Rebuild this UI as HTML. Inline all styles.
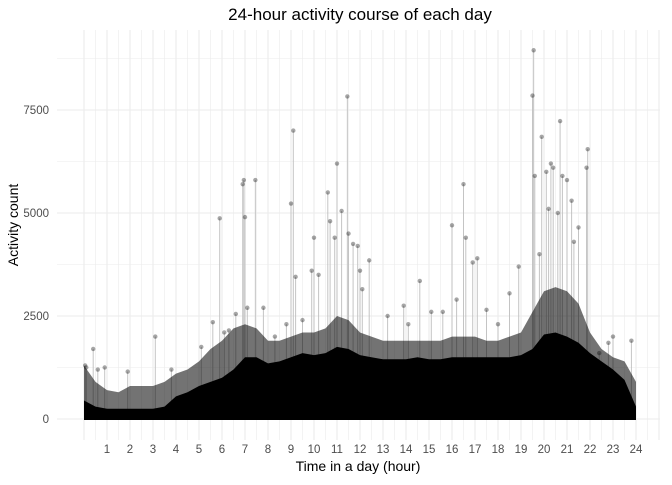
<!DOCTYPE html>
<html><head><meta charset="utf-8"><style>
body{margin:0;background:#fff;font-family:"Liberation Sans",sans-serif}
</style></head><body>
<svg id="chart" width="672" height="480" xmlns="http://www.w3.org/2000/svg"></svg>
<script>
// dense core top per half hour (0..24)
const denseHours=[0,0.5,1,1.5,2,2.5,3,3.5,4,4.5,5,5.5,6,6.5,7,7.5,8,8.5,9,9.5,10,10.5,11,11.5,12,12.5,13,13.5,14,14.5,15,15.5,16,16.5,17,17.5,18,18.5,19,19.5,20,20.5,21,21.5,22,22.5,23,23.5,24];
const denseValues=[450,300,250,250,250,250,250,300,550,650,800,900,1000,1200,1500,1500,1350,1400,1500,1600,1550,1600,1750,1700,1550,1500,1450,1450,1450,1500,1450,1450,1500,1500,1500,1500,1500,1500,1550,1700,2050,2100,2000,1850,1600,1400,1200,950,300];
const haloValues=[1300,900,700,650,800,800,800,900,1100,1200,1400,1700,1900,2200,2300,2200,1900,1900,2000,2100,2100,2200,2500,2400,2100,2000,1900,1900,1900,1900,1900,1900,2000,2000,2000,1900,1900,2000,2100,2600,3100,3200,3100,2800,2100,1700,1500,1400,900];
const spikeHours=[0.05,0.1,0.4,0.6,0.9,1.9,3.1,3.8,5.1,5.6,5.9,6.1,6.3,6.6,6.9,6.95,7.0,7.45,7.1,7.8,8.3,9.1,9.0,9.2,9.5,10.0,10.2,10.6,10.7,11.0,10.9,11.2,11.45,11.5,11.7,11.9,12.1,12.4,13.2,13.9,14.6,15.1,16.0,16.2,16.5,16.6,16.9,17.1,17.5,18.5,18.9,19.55,19.5,19.6,19.9,20.1,20.3,20.4,20.7,20.8,21.0,21.2,21.5,21.9,21.85,22.4,22.8,23.0,23.8,20.2,20.6,19.8,21.3,9.9,12.0,8.8,14.1,15.6,18.0];
const spikeValues=[1300,1250,1700,1200,1250,1150,2000,1200,1750,2350,4870,2100,2150,2550,5700,5800,4900,5800,2700,2700,2000,7000,5230,3450,2400,4400,3500,5500,4800,6200,4400,5050,7830,4500,4250,4200,3150,3850,2500,2750,3350,2600,4700,2900,5700,4400,3800,3900,2650,3050,3700,8950,7850,5900,6850,6000,6200,6100,7230,5900,5800,5300,4650,6550,6100,1600,1850,2000,1900,5100,5000,4000,4300,3600,3600,2300,2300,2600,2300];
const xTicks=[1,2,3,4,5,6,7,8,9,10,11,12,13,14,15,16,17,18,19,20,21,22,23,24];
const yTicks=[0,2500,5000,7500];

const svg=document.getElementById('chart');const NS='http://www.w3.org/2000/svg';
const X=h=>84+h*23.0, Y=v=>419-v*0.0412;
function mk(t,a,p){const e=document.createElementNS(NS,t);for(const k in a)e.setAttribute(k,a[k]);(p||svg).appendChild(e);return e;}
const grid=mk('g',{});


for(let v=-1250;v<=8750;v+=1250){if(Y(v)<30||Y(v)>440)continue;mk('line',{x1:57,x2:660,y1:Y(v),y2:Y(v),stroke:'#ebebeb','stroke-width':v%2500===0?1.1:0.6},grid);}
for(let h=0;h<=25;h+=0.5){mk('line',{x1:X(h),x2:X(h),y1:30,y2:440,stroke:'#ebebeb','stroke-width':h%1===0?1.1:0.6},grid);}
const sg=mk('g',{});


spikeHours.forEach((h,i)=>{
 mk('line',{x1:X(h),x2:X(h),y1:Y(0),y2:Y(spikeValues[i]),stroke:'#c4c4c4','stroke-width':1},sg);
});
let hp=`M${X(0)},${Y(0)} `+denseHours.map((h,i)=>`L${X(h)},${Y(haloValues[i])}`).join(' ')+` L${X(24)},${Y(0)}Z`;
const halo=mk('path',{d:hp,fill:'#000','fill-opacity':0.55});


let dp=`M${X(0)},${Y(0)} `+denseHours.map((h,i)=>`L${X(h)},${Y(denseValues[i])}`).join(' ')+` L${X(24)},${Y(0)}Z`;
const dense=mk('path',{d:dp,fill:'#000'});


mk('rect',{x:X(0),y:Y(0)-4,width:X(24)-X(0),height:5,fill:'#000'});
spikeHours.forEach((h,i)=>{
 const c=mk('circle',{cx:X(h),cy:Y(spikeValues[i]),r:2.2,fill:'#000','fill-opacity':0.35},sg);
 
 
});
xTicks.forEach(t=>{const e=mk('text',{x:X(t),y:453,'font-size':11.5,fill:'#4d4d4d','text-anchor':'middle'});e.textContent=t;

});
yTicks.forEach(t=>{const e=mk('text',{x:49,y:Y(t)+4,'font-size':11.5,fill:'#4d4d4d','text-anchor':'end'});e.textContent=t;

});
let e=mk('text',{x:358,y:471,'font-size':14,fill:'#000','text-anchor':'middle'});e.textContent='Time in a day (hour)';


e=mk('text',{x:0,y:0,'font-size':14,fill:'#000','text-anchor':'middle',transform:'translate(18,225) rotate(-90)'});e.textContent='Activity count';


e=mk('text',{x:360,y:20,'font-size':17,fill:'#000','text-anchor':'middle'});e.textContent='24-hour activity course of each day';


</script>
</body></html>
